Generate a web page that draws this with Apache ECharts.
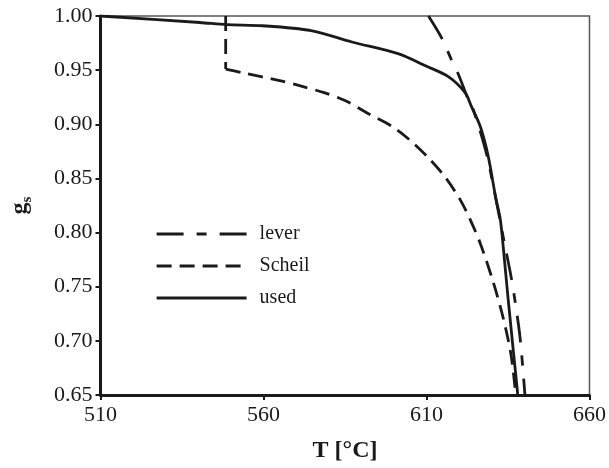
<!DOCTYPE html>
<html>
<head>
<meta charset="utf-8">
<script src="https://cdn.jsdelivr.net/npm/echarts@6/dist/echarts.min.js"></script>
<style>
html,body{margin:0;padding:0;background:#fff;}
#c{width:609px;height:468px;}
</style>
</head>
<body>
<div id="c"></div>
<script>
var xTicks = [510, 560, 610, 660];
var yTicks = [0.65, 0.70, 0.75, 0.80, 0.85, 0.90, 0.95, 1.00];

var leverT = [610.6, 614.6, 617.6, 619.8, 622.8, 624.3, 628.3, 631.3, 633.2, 634.4, 635.9, 637.1, 638.7, 640.2];
var leverG = [1.000, 0.980, 0.960, 0.946, 0.923, 0.914, 0.874, 0.831, 0.801, 0.783, 0.760, 0.738, 0.703, 0.650];

var scheilT = [548.4, 548.4, 553.6, 564.9, 571.6, 578.6, 585.3, 591.4, 599.3, 604.5, 610.6, 615.8, 620.4, 623.4, 626.5, 630.4, 633.5, 635.9, 637.4];
var scheilG = [1.000, 0.951, 0.9475, 0.9404, 0.9352, 0.9292, 0.9215, 0.9111, 0.8983, 0.8864, 0.869, 0.851, 0.830, 0.812, 0.790, 0.755, 0.7215, 0.6876, 0.650];

var usedT = [510, 540.5, 548.7, 559.7, 574.6, 587.1, 601.5, 609.7, 616.7, 621.9, 623.7, 626.5, 628.9, 631.3, 632.6, 633.5, 635.0, 638.0];
var usedG = [1.000, 0.994, 0.992, 0.991, 0.9865, 0.976, 0.965, 0.954, 0.944, 0.929, 0.917, 0.898, 0.871, 0.831, 0.813, 0.788, 0.740, 0.650];

function pairs(xs, ys) { return xs.map(function (x, i) { return [x, ys[i]]; }); }
var scheilPts = pairs(scheilT, scheilG);

var font = 'Liberation Serif';
var ink = '#1a1a1a';
var chart = echarts.init(document.getElementById('c'), null, { renderer: 'canvas' });
chart.setOption({
  animation: false,
  backgroundColor: '#fff',
  grid: { left: 100, right: 17, top: 16, bottom: 70, show: true, borderColor: '#555', borderWidth: 1.5, backgroundColor: 'transparent' },
  legend: {
    orient: 'vertical', left: 155, top: 224, padding: 0, itemWidth: 90, itemHeight: 20, itemGap: 12,
    itemStyle: { color: 'rgba(0,0,0,0)', borderWidth: 0 },
    lineStyle: { width: 3.2 },
    textStyle: { fontFamily: font, fontSize: 20, color: ink, padding: [0, 0, 0, 8] },
    data: ['lever', 'Scheil', 'used']
  },
  xAxis: {
    type: 'value', min: 510, max: 660,
    name: 'T [°C]', nameLocation: 'middle', nameGap: 44,
    nameTextStyle: { fontFamily: font, fontSize: 24, fontWeight: 'bold', color: ink },
    axisLine: { show: true, lineStyle: { color: ink, width: 3 } },
    axisTick: { show: true, length: 5, lineStyle: { color: ink, width: 2 }, customValues: xTicks },
    axisLabel: { fontFamily: font, fontSize: 22, color: ink, margin: 9, customValues: xTicks },
    splitLine: { show: false }
  },
  yAxis: {
    type: 'value', min: 0.65, max: 1.0,
    name: '{g|g}{s|s}', nameLocation: 'middle', nameGap: 66, nameRotate: 90,
    nameTextStyle: {
      rich: {
        g: { fontFamily: font, fontSize: 24, fontWeight: 'bold', color: ink },
        s: { fontFamily: font, fontSize: 15, fontWeight: 'bold', color: ink, padding: [14, 0, 0, 0] }
      }
    },
    axisLine: { show: true, lineStyle: { color: ink, width: 3 } },
    axisTick: { show: true, length: 5, lineStyle: { color: ink, width: 2 }, customValues: yTicks },
    axisLabel: { fontFamily: font, fontSize: 22, color: ink, margin: 8, customValues: yTicks,
      formatter: function (v) { return v.toFixed(2); } },
    splitLine: { show: false }
  },
  series: [
    { name: 'lever', type: 'line', data: pairs(leverT, leverG), symbol: 'none', smooth: 0.3, clip: true,
      lineStyle: { color: ink, width: 2.8, type: [27, 13, 10, 13] }, itemStyle: { color: ink } },
    { name: 'Scheil', type: 'line', data: scheilPts.slice(0, 2), symbol: 'none', smooth: false, clip: true,
      lineStyle: { color: ink, width: 2.8, type: [15, 8] }, itemStyle: { color: ink } },
    { name: 'Scheil', type: 'line', data: scheilPts.slice(1), symbol: 'none', smooth: 0.3, clip: true,
      lineStyle: { color: ink, width: 2.8, type: [15, 8] }, itemStyle: { color: ink } },
    { name: 'used', type: 'line', data: pairs(usedT, usedG), symbol: 'none', smooth: 0.3, clip: true,
      lineStyle: { color: ink, width: 2.8, type: 'solid' }, itemStyle: { color: ink } }
  ]
});
</script>
</body>
</html>
